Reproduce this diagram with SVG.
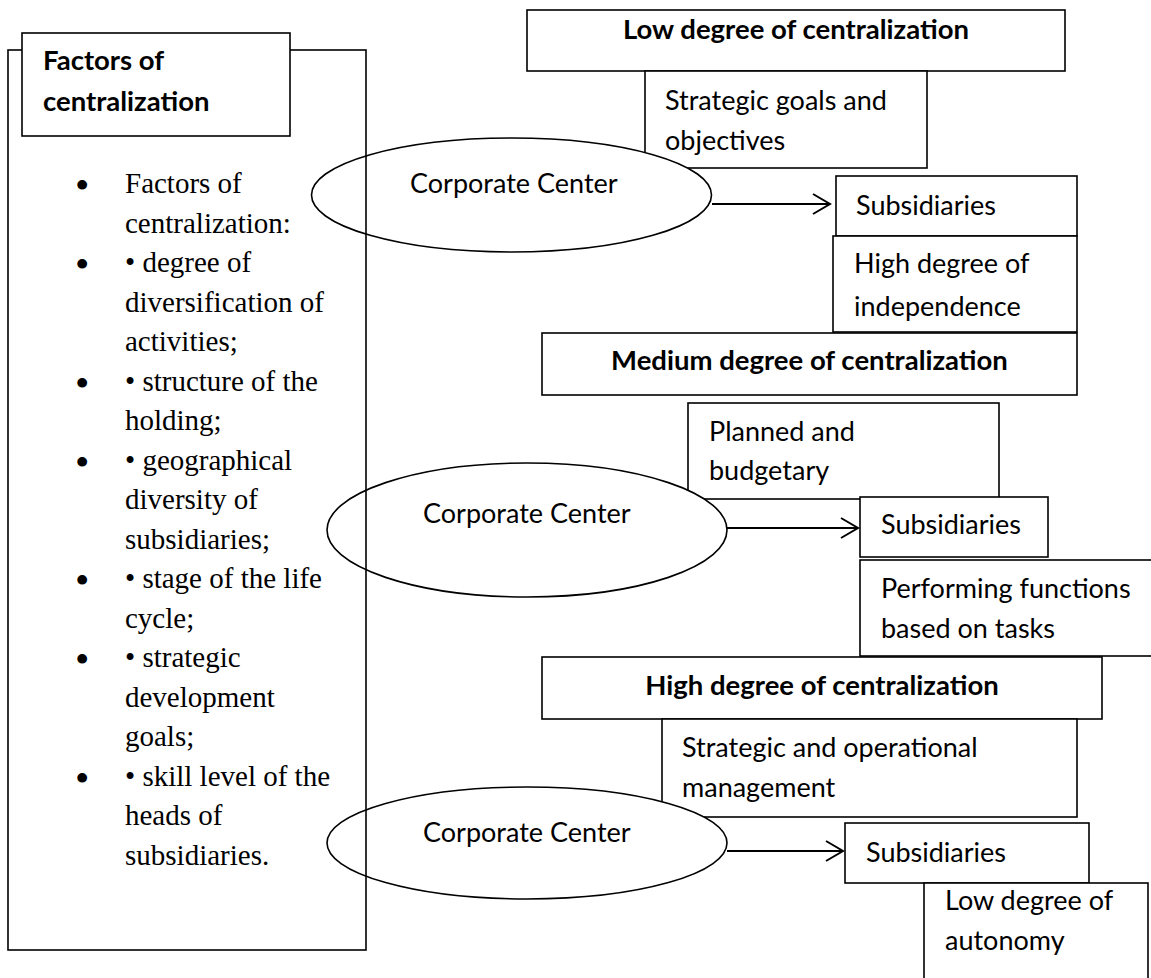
<svg xmlns="http://www.w3.org/2000/svg" width="1151" height="978" viewBox="0 0 1151 978">
<style>
.box{fill:#fff;stroke:#000;stroke-width:1.6}
.frame{fill:none;stroke:#000;stroke-width:1.6}
.ell{fill:#fff;stroke:#000;stroke-width:1.6}
.t{font-family:Lato,"Open Sans",sans-serif;font-size:27px;fill:#000}
.b{font-family:Lato,"Open Sans",sans-serif;font-size:27.5px;font-weight:bold;fill:#000}
.s{font-family:"Liberation Serif","Times New Roman",serif;font-size:29px;fill:#000}
.m{font-family:"Liberation Serif","Times New Roman",serif;font-size:41px;fill:#000}
.arrow{stroke:#000;stroke-width:2;fill:none}
</style>
<defs>
<marker id="open" markerUnits="userSpaceOnUse" viewBox="0 0 20 22" markerWidth="20" markerHeight="22" refX="18" refY="11" orient="auto">
<path d="M1,1 L18,11 L1,21" fill="none" stroke="#000" stroke-width="2"/>
</marker>
</defs>
<rect width="1151" height="978" fill="#fff"/>

<!-- right-side boxes -->
<g id="low-degree">
<rect class="box" x="527" y="10" width="538" height="61"/>
<text class="b" x="796" y="39" text-anchor="middle">Low degree of centralization</text>
</g>
<g id="strategic-goals">
<rect class="box" x="645" y="71" width="282" height="97"/>
<text class="t" x="665" y="110">Strategic goals and</text>
<text class="t" x="665" y="150">objectives</text>
</g>
<g id="subsidiaries-1">
<rect class="box" x="836" y="176" width="241" height="60"/>
<text class="t" x="856" y="215">Subsidiaries</text>
</g>
<g id="high-independence">
<rect class="box" x="833" y="236" width="244" height="96"/>
<text class="t" x="854" y="273">High degree of</text>
<text class="t" x="854" y="316">independence</text>
</g>
<g id="medium-degree">
<rect class="box" x="542" y="333" width="535" height="62"/>
<text class="b" x="809.5" y="370" text-anchor="middle">Medium degree of centralization</text>
</g>
<g id="planned-budgetary">
<rect class="box" x="688" y="403" width="311" height="96"/>
<text class="t" x="709" y="441">Planned and</text>
<text class="t" x="709" y="480">budgetary</text>
</g>
<g id="subsidiaries-2">
<rect class="box" x="860" y="497" width="188" height="60"/>
<text class="t" x="881" y="534">Subsidiaries</text>
</g>
<g id="performing-functions">
<rect class="box" x="860" y="560" width="300" height="96"/>
<text class="t" x="881" y="598">Performing functions</text>
<text class="t" x="881" y="638">based on tasks</text>
</g>
<g id="high-degree">
<rect class="box" x="542" y="657" width="560" height="62"/>
<text class="b" x="822" y="695" text-anchor="middle">High degree of centralization</text>
</g>
<g id="strategic-operational">
<rect class="box" x="662" y="719" width="415" height="98"/>
<text class="t" x="682" y="757">Strategic and operational</text>
<text class="t" x="682" y="797">management</text>
</g>
<g id="subsidiaries-3">
<rect class="box" x="845" y="823" width="244" height="60"/>
<text class="t" x="866" y="862">Subsidiaries</text>
</g>
<g id="low-autonomy">
<rect class="box" x="924" y="883" width="224" height="110"/>
<text class="t" x="945" y="910">Low degree of</text>
<text class="t" x="945" y="950">autonomy</text>
</g>

<!-- ellipses -->
<g id="corporate-center-1">
<ellipse class="ell" cx="511.5" cy="195" rx="200" ry="57"/>
<text class="t" x="410" y="193">Corporate Center</text>
</g>
<g id="corporate-center-2">
<ellipse class="ell" cx="527" cy="530" rx="200" ry="67"/>
<text class="t" x="423" y="523">Corporate Center</text>
</g>
<g id="corporate-center-3">
<ellipse class="ell" cx="527" cy="843" rx="200" ry="56"/>
<text class="t" x="423" y="842">Corporate Center</text>
</g>

<!-- left factors panel -->
<g id="factors-panel">
<rect class="frame" x="8" y="50" width="358" height="900"/>
<g class="m">
<text x="75" y="199">•</text>
<text x="75" y="278">•</text>
<text x="75" y="396.5">•</text>
<text x="75" y="475.5">•</text>
<text x="75" y="594">•</text>
<text x="75" y="673">•</text>
<text x="75" y="791.5">•</text>
</g>
<text class="s" x="125" y="193">Factors of<tspan x="125" dy="39.5">centralization:</tspan><tspan x="125" dy="39.5">• degree of</tspan><tspan x="125" dy="39.5">diversification of</tspan><tspan x="125" dy="39.5">activities;</tspan><tspan x="125" dy="39.5">• structure of the</tspan><tspan x="125" dy="39.5">holding;</tspan><tspan x="125" dy="39.5">• geographical</tspan><tspan x="125" dy="39.5">diversity of</tspan><tspan x="125" dy="39.5">subsidiaries;</tspan><tspan x="125" dy="39.5">• stage of the life</tspan><tspan x="125" dy="39.5">cycle;</tspan><tspan x="125" dy="39.5">• strategic</tspan><tspan x="125" dy="39.5">development</tspan><tspan x="125" dy="39.5">goals;</tspan><tspan x="125" dy="39.5">• skill level of the</tspan><tspan x="125" dy="39.5">heads of</tspan><tspan x="125" dy="39.5">subsidiaries.</tspan></text>
</g>
<g id="factors-title">
<rect class="box" x="22" y="33" width="268" height="103"/>
<text class="b" x="43" y="70">Factors of</text>
<text class="b" x="43" y="111">centralization</text>
</g>

<!-- connectors -->
<g id="connectors">
<line class="arrow" x1="712" y1="204" x2="830" y2="204" marker-end="url(#open)"/>
<line class="arrow" x1="727" y1="528" x2="858" y2="528" marker-end="url(#open)"/>
<line class="arrow" x1="727" y1="851" x2="843" y2="851" marker-end="url(#open)"/>
</g>
</svg>
